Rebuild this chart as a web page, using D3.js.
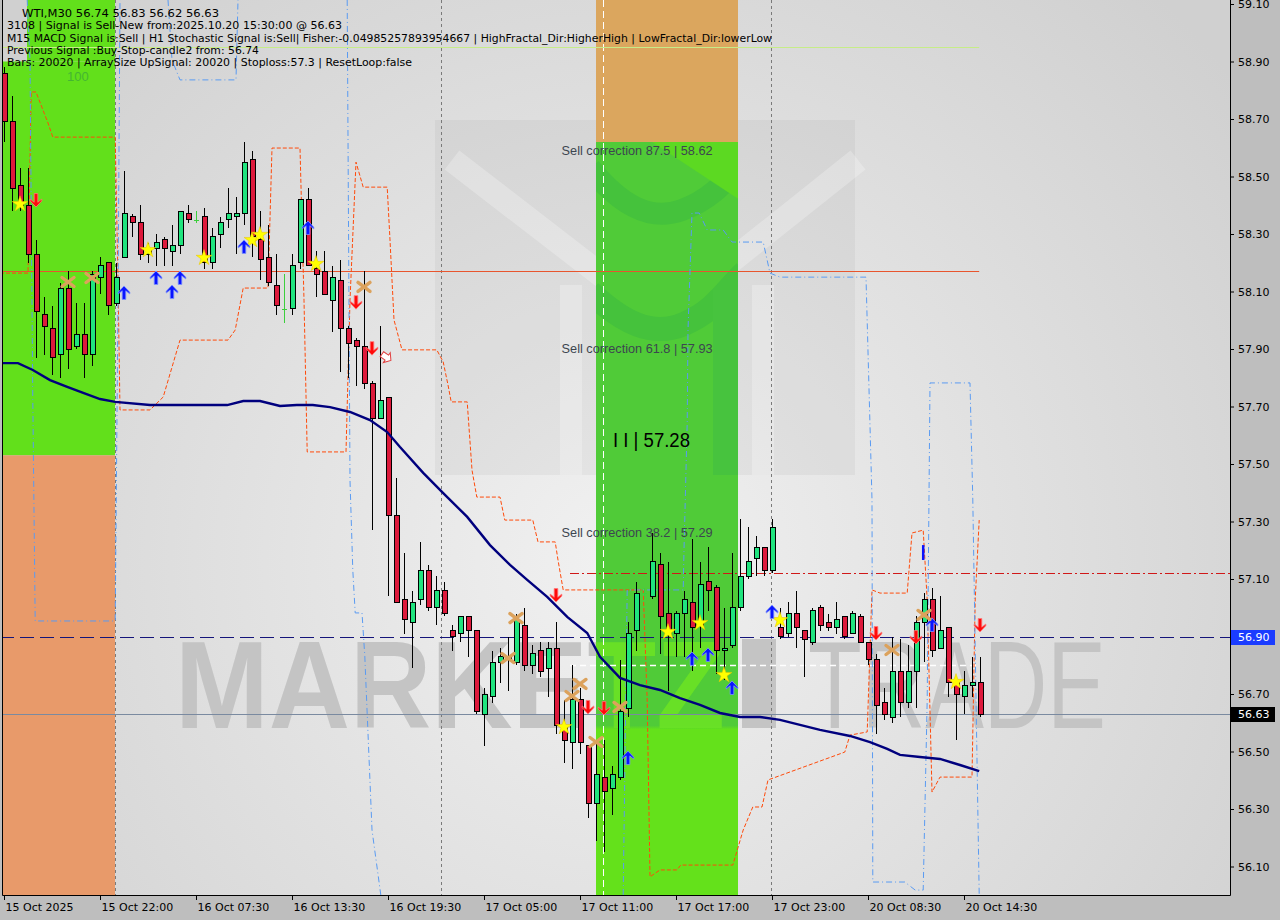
<!DOCTYPE html>
<html><head><meta charset="utf-8">
<script src="https://cdn.jsdelivr.net/npm/d3@7"></script>
<style>body{margin:0;background:#bebebe;} svg{display:block}</style>
</head><body>
<svg id="chart" width="1280" height="920"></svg>
<script>
// ---------- DATA ----------
const open = [58.86,58.69,58.47,58.40,58.23,58.02,57.97,57.88,58.11,57.91,
57.95,57.88,58.15,58.20,58.06,58.22,58.36,58.34,58.23,58.25,
58.28,58.24,58.26,58.37,58.35,58.36,58.20,58.30,58.35,58.36,
58.37,58.56,58.28,58.22,58.12,58.04,58.04,58.20,58.42,58.18,
58.17,58.07,58.14,57.97,57.93,57.91,57.78,57.66,57.73,57.32,
57.03,56.95,57.03,57.13,57.00,57.06,56.92,56.91,56.97,56.92,
56.63,56.69,56.81,56.82,56.81,56.94,56.80,56.85,56.79,56.86,
56.59,56.53,56.68,56.52,56.32,56.41,56.37,56.41,56.65,56.92,
57.05,57.04,57.15,56.98,56.91,56.98,57.02,56.94,57.09,57.07,
56.85,56.87,57.00,57.11,57.17,57.21,57.13,56.93,56.91,56.98,
56.92,56.88,57.00,56.95,56.93,56.97,56.91,56.97,56.88,56.82,
56.67,56.62,56.78,56.67,56.78,56.95,57.03,56.86,56.93,56.74,
56.69,56.73,56.74];
const high = [58.88,58.78,58.53,58.53,58.28,58.08,58.05,58.13,58.17,58.06,
58.06,58.17,58.22,58.20,58.20,58.52,58.37,58.40,58.27,58.30,
58.29,58.33,58.38,58.40,58.38,58.39,58.32,58.36,58.46,58.43,
58.62,58.59,58.38,58.33,58.23,58.16,58.23,58.42,58.46,58.24,
58.24,58.19,58.21,57.98,57.94,58.17,57.79,57.98,57.73,57.45,
57.19,57.06,57.23,57.15,57.11,57.09,56.94,56.97,56.97,56.92,
56.72,56.85,56.86,56.90,56.98,57.00,56.87,56.88,56.88,56.95,
56.68,56.80,56.72,56.52,56.53,56.54,56.45,56.82,56.95,57.09,
57.07,57.26,57.19,57.16,56.99,57.06,57.24,57.16,57.21,57.08,
57.00,57.19,57.31,57.28,57.25,57.21,57.31,57.00,57.02,57.06,
56.92,57.00,57.01,56.98,57.02,56.97,56.99,56.98,56.88,56.84,
56.72,56.90,56.89,56.87,56.97,57.05,57.07,57.04,56.93,56.76,
56.78,56.83,56.83];
const low = [58.62,58.38,58.38,58.20,57.87,57.88,57.81,57.80,57.83,57.90,
57.80,57.84,58.09,58.02,58.05,58.22,58.29,58.21,58.20,58.19,
58.19,58.19,58.23,58.34,58.34,58.18,58.18,58.25,58.32,58.23,
58.33,58.22,58.14,58.12,58.02,57.99,58.02,58.18,58.19,58.08,
58.09,57.96,57.82,57.80,57.77,57.76,57.27,57.66,57.04,57.02,
56.91,56.79,57.01,56.99,56.94,56.97,56.85,56.88,56.83,56.63,
56.52,56.67,56.74,56.71,56.80,56.78,56.77,56.76,56.69,56.56,
56.46,56.44,56.49,56.27,56.19,56.15,56.28,56.40,56.62,56.85,
57.03,57.03,56.84,56.71,56.83,56.83,56.78,56.86,56.99,56.77,
56.75,56.86,56.99,57.10,57.11,57.11,57.12,56.89,56.90,56.86,
56.76,56.87,56.92,56.92,56.91,56.89,56.91,56.88,56.80,56.56,
56.61,56.60,56.62,56.65,56.65,56.81,56.83,56.86,56.69,56.54,
56.63,56.69,56.62];
const close = [58.69,58.46,58.40,58.23,58.03,57.98,57.87,58.11,57.90,57.95,
57.88,58.16,58.19,58.05,58.15,58.37,58.34,58.23,58.25,58.27,
58.25,58.26,58.38,58.35,58.35,58.20,58.29,58.34,58.37,58.37,
58.55,58.29,58.21,58.13,58.05,58.04,58.19,58.42,58.19,58.16,
58.09,58.15,57.97,57.92,57.91,57.78,57.66,57.72,57.32,57.02,
56.96,57.02,57.13,57.00,57.06,56.98,56.90,56.97,56.92,56.64,
56.70,56.81,56.83,56.83,56.96,56.80,56.84,56.78,56.86,56.59,
56.54,56.68,56.53,56.32,56.42,56.36,56.42,56.64,56.91,57.05,
57.05,57.16,56.97,56.92,56.98,57.03,56.93,57.08,57.06,56.85,
56.86,57.00,57.11,57.16,57.21,57.13,57.28,56.90,56.98,56.93,
56.89,56.99,56.94,56.93,56.96,56.90,56.98,56.88,56.82,56.66,
56.63,56.78,56.67,56.78,56.95,57.03,56.85,56.92,56.74,56.70,
56.73,56.74,56.63];

const timeTickIdx = [0,12,24,36,48,60,72,84,96,108,120];
const timeTickLabels = ["15 Oct 2025","15 Oct 22:00","16 Oct 07:30","16 Oct 13:30","16 Oct 19:30","17 Oct 05:00","17 Oct 11:00","17 Oct 17:00","17 Oct 23:00","20 Oct 08:30","20 Oct 14:30"];
const priceTicks = [56.10,56.30,56.50,56.70,56.90,57.10,57.30,57.50,57.70,57.90,58.10,58.30,58.50,58.70,58.90,59.10];

// moving average (bar index, price)
const maIdx = [-0.5,1.75,3.6,5.75,7.9,9.9,12,13.9,18.25,23.25,27.9,29.9,32,34.5,36.6,38.6,40.75,43.25,45.75,47.9,49.5,52.4,54.9,57.9,60.75,63.25,65.4,67.9,70.4,72.9,74.5,77,79.5,82,84.5,87,89.5,92,94.5,97,102,105.75,108.25,110.4,112,114.5,117,119.5,121.9];
const maVal = [57.851,57.851,57.827,57.792,57.768,57.747,57.726,57.716,57.705,57.705,57.705,57.719,57.719,57.702,57.705,57.705,57.698,57.681,57.653,57.611,57.559,57.469,57.399,57.316,57.218,57.149,57.097,57.038,56.968,56.912,56.829,56.756,56.731,56.714,56.686,56.662,56.634,56.620,56.620,56.610,56.575,56.554,56.533,56.509,56.488,56.481,56.474,56.453,56.432];

// orange fractal step line
const orIdx = [-0.5,3,3.4,4,5.5,6.1,13.9,14.25,14.5,18.25,19.9,22,28,28.9,29.9,33,33.5,37,37.5,37.9,42.75,43.25,44,44.9,47.9,48.25,48.75,49.75,54.1,54.9,55.5,55.9,57.9,58.5,59.1,62,62.6,66.1,66.75,68.9,69.25,69.9,79.9,80.4,80.75,82,84.1,84.6,91.1,92.4,93.6,94.75,95.5,105.1,105.75,107.9,108.5,109.5,112.9,113.5,114.9,115.4,116,117,121,121.4,121.9];
const orVal = [58.164,58.164,58.794,58.794,58.686,58.637,58.637,58.14,57.688,57.688,57.733,57.931,57.931,57.966,58.112,58.112,58.599,58.599,58.070,57.542,57.542,58.070,58.550,58.463,58.463,58.279,58.001,57.897,57.897,57.855,57.775,57.716,57.716,57.479,57.385,57.385,57.305,57.305,57.229,57.229,57.166,57.062,57.062,56.679,56.064,56.088,56.088,56.105,56.105,56.227,56.307,56.307,56.401,56.498,56.557,56.568,57.062,57.051,57.051,57.260,57.270,57.027,56.359,56.411,56.411,57.027,57.305];

// blue fractal step lines
const b1Idx = [2.9,3.25,3.6,3.9,13.9,14.25,14.5];
const b1Val = [59.114,58.905,57.723,56.954,56.954,58.070,59.114];
const b2Idx = [20.5,21,22,29,29.25];
const b2Val = [59.114,58.905,58.836,58.836,59.114];
const b3Idx = [42.9,43.25,43.6,43.9,44.75,45.1,46,47.1];
const b3Val = [59.114,57.444,57.131,56.982,56.982,56.832,56.227,56.001];
const b4Idx = [77.4,77.9,84.9,85,85.4,85.5,86,86.9,87.9,89.9,91,94.9,95.75,97,107.75,108.5,108.6,112.6,113.9,114.9,115.4,115.75,120.75,121.1,121.9];
const b4Val = [56.001,57.062,57.062,57.201,57.643,57.966,58.373,58.373,58.314,58.314,58.272,58.272,58.164,58.150,58.150,57.375,56.046,56.046,56.018,56.018,56.679,57.782,57.782,57.375,56.001];

// signal markers
const starIdx = [2,18,25,31,32,39,70,83,87,90,97,119];
const starPx  = [58.404,58.244,58.217,58.279,58.297,58.196,56.585,56.916,56.947,56.766,56.957,56.742];
const upIdx = [15,19,21,22,30,38,78,86,88,91,96,116];
const upPx  = [58.095,58.147,58.098,58.147,58.255,58.321,56.477,56.822,56.836,56.721,56.985,56.940];
const downIdx = [4,44,46,69,73,75,109,114,122];
const downPx  = [58.418,58.063,57.903,57.044,56.655,56.651,56.912,56.898,56.940];
const crossIdx = [8,11,45,63,64,71,72,74,77,111,115];
const crossPx  = [58.133,58.147,58.116,56.825,56.964,56.693,56.735,56.533,56.655,56.853,56.975];

// zones
const zoneX0 = [-0.5,2.875,-0.5,74,74];
const zoneX1 = [13.875,13.875,13.875,91.75,91.75];
const zoneHi = [58.90,59.13,57.53,59.13,58.62];
const zoneLo = [57.53,58.90,55.99,58.62,55.99];
const zoneKind = ["buy","buy","sell","tan","mid"];

// levels
const levelPrice = [58.95,58.17,57.12,56.90,56.80,56.63];
const levelFrom  = [-0.5,-0.5,70.75,-0.5,70.75,-0.5];
const levelTo    = [121.9,121.9,160,160,121.9,160];
const levelKind  = ["lime","orange","reddash","bluedash","white","bid"];
const sepIdx = [13.9,54.6,95.9];
const whiteSepIdx = [74.9];

const corrLabels = ["Sell correction 87.5 | 58.62","Sell correction 61.8 | 57.93","Sell correction 38.2 | 57.29"];
const corrPrice = [58.62,57.93,57.29];
const headerLines = ["WTI,M30  56.74 56.83 56.62 56.63",
 "3108 | Signal is Sell-New from:2025.10.20 15:30:00 @ 56.63",
 "M15 MACD Signal is:Sell | H1 Stochastic Signal is:Sell| Fisher:-0.04985257893954667 | HighFractal_Dir:HigherHigh | LowFractal_Dir:lowerLow",
 "Previous Signal :Buy-Stop-candle2 from: 56.74",
 "Bars: 20020 | ArraySize UpSignal: 20020 | Stoploss:57.3 | ResetLoop:false"];
const priceTags = [56.90,56.63];

// ---------- STYLE / LAYOUT ----------
const headerX = [22,7,7,7,7], headerY=[17,29,42,54,66], headerW=[197,335,765,252,405];
const zoneColor = {buy:"#62e01b", sell:"#e89a6a", tan:"#dba65e", mid:"url(#midGrad)"};
const tagFill = ["#1a3cff","#000000"];

const svg = d3.select("#chart");
const x = d3.scaleLinear().domain([0,122]).range([4,980]);
const y = d3.scaleLinear().domain([56.10,59.10]).range([866.5,4]);
const L=2, R=1230, B=895;

const defs = svg.append("defs");
defs.append("clipPath").attr("id","plotClip").append("rect").attr("x",L).attr("y",0).attr("width",R-L).attr("height",B);
defs.append("clipPath").attr("id","midClip").append("rect")
  .attr("x",x(zoneX0[4])).attr("y",y(zoneHi[4])).attr("width",x(zoneX1[4])-x(zoneX0[4])).attr("height",B-y(zoneHi[4]));
const rg = defs.append("radialGradient").attr("id","bgGrad").attr("gradientUnits","userSpaceOnUse")
  .attr("cx",620).attr("cy",560).attr("r",780);
rg.append("stop").attr("offset",0).attr("stop-color","#f1f1f1");
rg.append("stop").attr("offset",1).attr("stop-color","#d0d0d0");
const mg = defs.append("linearGradient").attr("id","midGrad").attr("gradientUnits","userSpaceOnUse")
  .attr("x1",0).attr("x2",0).attr("y1",y(58.62)).attr("y2",B);
[[0,"#50cb38"],[0.775,"#50cb38"],[0.78,"#64e11b"],[1,"#64e11b"]].forEach(s=>mg.append("stop").attr("offset",s[0]).attr("stop-color",s[1]));

// background
svg.append("rect").attr("width",1280).attr("height",920).attr("fill","#bebebe");
svg.append("rect").attr("x",L).attr("y",0).attr("width",R-L).attr("height",B).attr("fill","url(#bgGrad)");

const plot = svg.append("g").attr("clip-path","url(#plotClip)");

// watermark logo (grey area)
const logo = plot.append("g");
logo.append("rect").attr("x",435).attr("y",120).attr("width",420).attr("height",355).attr("fill","#000").attr("opacity",0.04);
logo.append("path").attr("d","M452,160 L605,278").attr("stroke","#fff").attr("stroke-width",24).attr("opacity",0.25);
logo.append("path").attr("d","M858,160 L730,262").attr("stroke","#fff").attr("stroke-width",24).attr("opacity",0.25);
logo.append("rect").attr("x",560).attr("y",285).attr("width",22).attr("height",190).attr("fill","#fff").attr("opacity",0.25);
logo.append("rect").attr("x",752).attr("y",285).attr("width",22).attr("height",190).attr("fill","#fff").attr("opacity",0.25);

// watermark text
function watermark(g, fill, op){
  g.append("text").attr("x",175).attr("y",728).attr("font-family","Liberation Sans, Arial").attr("font-weight","bold")
   .attr("font-size",124).attr("textLength",550).attr("lengthAdjust","spacingAndGlyphs").attr("fill",fill).attr("opacity",op).text("MARKETZ");
  g.append("rect").attr("x",742).attr("y",639).attr("width",34).attr("height",89).attr("fill",fill).attr("opacity",op);
  g.append("text").attr("x",808).attr("y",728).attr("font-family","Liberation Sans, Arial")
   .attr("font-size",124).attr("textLength",298).attr("lengthAdjust","spacingAndGlyphs").attr("fill",fill).attr("opacity",op).text("TRADE");
}
watermark(plot.append("g"), "#c4c4c4", 1);

// zones
plot.append("g").selectAll("rect").data(zoneKind).join("rect")
  .attr("x",(d,i)=>x(zoneX0[i])).attr("width",(d,i)=>x(zoneX1[i])-x(zoneX0[i]))
  .attr("y",(d,i)=>y(zoneHi[i])).attr("height",(d,i)=>y(zoneLo[i])-y(zoneHi[i]))
  .attr("fill",d=>zoneColor[d]);

// in-band logo / watermark
const band = plot.append("g").attr("clip-path","url(#midClip)");
band.append("path").attr("d","M590,168 C620,205 650,222 682,210 S728,178 745,160").attr("fill","none").attr("stroke","#45c23c").attr("stroke-width",22);
band.append("path").attr("d","M590,292 C622,322 652,338 684,324 S724,292 745,272").attr("fill","none").attr("stroke","#45c23c").attr("stroke-width",24);
band.append("path").attr("d","M652,142 L740,142 L740,200 Z").attr("fill","#5cd922");
band.append("rect").attr("x",713).attr("y",290).attr("width",26).attr("height",185).attr("fill","#47c33e");
watermark(band, "#6be325", 0.9);

// separators
plot.append("g").selectAll("line").data(sepIdx).join("line")
  .attr("x1",d=>Math.round(x(d))+0.5).attr("x2",d=>Math.round(x(d))+0.5).attr("y1",0).attr("y2",B)
  .attr("stroke","#7a7a7a").attr("stroke-dasharray","3,3");
plot.append("g").selectAll("line").data(whiteSepIdx).join("line")
  .attr("x1",d=>Math.round(x(d))+0.5).attr("x2",d=>Math.round(x(d))+0.5).attr("y1",0).attr("y2",B)
  .attr("stroke","#ffffff").attr("stroke-dasharray","7,4");

// levels
const levelStyle = {
  lime:{c:"#c6ec88",w:1,d:null},
  orange:{c:"#e8552e",w:1,d:null},
  reddash:{c:"#d01818",w:1.2,d:"9,3,2,3"},
  bluedash:{c:"#14147a",w:1.2,d:"14,6"},
  white:{c:"#ffffff",w:1.3,d:"6,4"},
  bid:{c:"#7a8aa0",w:1,d:null}
};
plot.append("g").selectAll("line").data(levelKind).join("line")
  .attr("x1",(d,i)=>x(levelFrom[i])).attr("x2",(d,i)=>x(levelTo[i]))
  .attr("y1",(d,i)=>Math.round(y(levelPrice[i]))+0.5).attr("y2",(d,i)=>Math.round(y(levelPrice[i]))+0.5)
  .attr("stroke",d=>levelStyle[d].c).attr("stroke-width",d=>levelStyle[d].w)
  .attr("stroke-dasharray",d=>levelStyle[d].d);

// indicator step lines
const ln = d3.line().x(d=>x(d[0])).y(d=>y(d[1]));
plot.append("path").attr("d",ln(orIdx.map((v,i)=>[v,orVal[i]]))).attr("fill","none")
  .attr("stroke","#ff4a0a").attr("stroke-width",1).attr("stroke-dasharray","4,2");
[[b1Idx,b1Val],[b2Idx,b2Val],[b3Idx,b3Val],[b4Idx,b4Val]].forEach(([a,b])=>{
  plot.append("path").attr("d",ln(a.map((v,i)=>[v,b[i]]))).attr("fill","none")
   .attr("stroke","#5a9bf2").attr("stroke-width",1).attr("stroke-dasharray","6,3,1,3");
});

// candles
const cg = plot.append("g").attr("shape-rendering","crispEdges");
const idx = d3.range(open.length);
cg.selectAll("line.w").data(idx).join("line").attr("class","w")
  .attr("x1",i=>x(i)+0.5).attr("x2",i=>x(i)+0.5)
  .attr("y1",i=>y(high[i])).attr("y2",i=>y(low[i]))
  .attr("stroke",i=>open[i]===close[i]?"#3ccf3c":"#000").attr("stroke-width",1);
cg.selectAll("rect").data(idx.filter(i=>open[i]!==close[i])).join("rect")
  .attr("x",i=>x(i)-2).attr("width",5)
  .attr("y",i=>y(Math.max(open[i],close[i]))).attr("height",i=>Math.max(1,Math.abs(y(open[i])-y(close[i]))))
  .attr("fill",i=>close[i]>open[i]?"#20e47e":"#dd1a3c").attr("stroke","#000").attr("stroke-width",1);
cg.selectAll("line.d").data(idx.filter(i=>open[i]===close[i])).join("line").attr("class","d")
  .attr("x1",i=>x(i)-2).attr("x2",i=>x(i)+3).attr("y1",i=>Math.round(y(open[i]))+0.5).attr("y2",i=>Math.round(y(open[i]))+0.5)
  .attr("stroke","#3ccf3c");

// moving average
plot.append("path").attr("d",ln(maIdx.map((v,i)=>[v,maVal[i]]))).attr("fill","none")
  .attr("stroke","#00007e").attr("stroke-width",2.4);

// markers
const mk = plot.append("g");
mk.selectAll("path.star").data(starIdx).join("path").attr("class","star")
  .attr("d",d3.symbol(d3.symbolStar,78)).attr("transform",(d,i)=>`translate(${x(d)},${y(starPx[i])})`)
  .attr("fill","#ffff00").attr("stroke","#e8c000").attr("stroke-width",0.5);
const arrowPath = "M0,-7 L5.8,-0.8 L5.8,1 L1.8,-2.2 L1.8,6.5 L-1.8,6.5 L-1.8,-2.2 L-5.8,1 L-5.8,-0.8 Z";
mk.selectAll("path.up").data(upIdx).join("path").attr("class","up").attr("d",arrowPath)
  .attr("transform",(d,i)=>`translate(${x(d)},${y(upPx[i])})`)
  .attr("fill","#0a14ff").attr("stroke","#7d95ff").attr("stroke-width",0.8);
mk.selectAll("path.dn").data(downIdx).join("path").attr("class","dn").attr("d",arrowPath)
  .attr("transform",(d,i)=>`translate(${x(d)},${y(downPx[i])}) scale(1,-1)`)
  .attr("fill","#ff0a0a").attr("stroke","#ff7a7a").attr("stroke-width",0.8);
mk.selectAll("path.cr").data(crossIdx).join("path").attr("class","cr")
  .attr("d","M-6,-4.5 L6,4.5 M-6,4.5 L6,-4.5")
  .attr("transform",(d,i)=>`translate(${x(d)},${y(crossPx[i])})`)
  .attr("stroke","#dca25c").attr("stroke-width",3.4).attr("stroke-linecap","round").attr("fill","none");
// small outlined arrow and blue bar mark
mk.append("path").attr("d","M-5,-3 L1,-3 L1,-6 L6,0 L1,6 L1,3 L-5,3 Z")
  .attr("transform",`translate(${x(47.75)},${y(57.872)}) rotate(35)`).attr("fill","#fff").attr("stroke","#e04040").attr("stroke-width",1);
mk.append("line").attr("x1",x(114.9)).attr("x2",x(114.9)).attr("y1",y(57.218)).attr("y2",y(57.166))
  .attr("stroke","#0a14ff").attr("stroke-width",2.5);

// texts
const tg = svg.append("g").attr("font-family","DejaVu Sans, Tahoma, sans-serif");
tg.append("text").attr("x",67).attr("y",81).attr("font-size",13).attr("font-family","Liberation Sans, Arial, sans-serif")
  .attr("fill","#3aa83a").attr("opacity",0.75).text("100");
tg.selectAll("text.h").data(headerLines).join("text").attr("class","h")
  .attr("x",(d,i)=>headerX[i]).attr("y",(d,i)=>headerY[i]).attr("font-size",11)
  .attr("textLength",(d,i)=>headerW[i]).attr("lengthAdjust","spacingAndGlyphs").attr("fill","#000").text(d=>d);
tg.selectAll("text.c").data(corrLabels).join("text").attr("class","c")
  .attr("x",x(69.7)).attr("y",(d,i)=>y(corrPrice[i])+12.5).attr("font-size",12)
  .attr("font-family","Liberation Sans, Arial, sans-serif")
  .attr("textLength",151).attr("lengthAdjust","spacingAndGlyphs").attr("fill","#3c4650").text(d=>d);
tg.append("text").attr("x",613).attr("y",447).attr("font-size",20).attr("font-family","Liberation Sans, Arial, sans-serif")
  .attr("fill","#000").attr("textLength",77).attr("lengthAdjust","spacingAndGlyphs").text("I I | 57.28");

// axes
const yAxis = svg.append("g").attr("transform",`translate(${R},0)`)
  .call(d3.axisRight(y).tickValues(priceTicks).tickSize(4).tickPadding(4).tickFormat(d3.format(".2f")));
yAxis.select(".domain").remove();
yAxis.selectAll("text").attr("font-family","DejaVu Sans, Tahoma, sans-serif").attr("font-size",11).attr("fill","#000");
yAxis.selectAll("line").attr("stroke","#000");

const xAxis = svg.append("g").attr("transform",`translate(0,${B})`)
  .call(d3.axisBottom(x).tickValues(timeTickIdx).tickSize(5).tickPadding(3).tickFormat((d,i)=>timeTickLabels[i]));
xAxis.select(".domain").remove();
xAxis.selectAll("text").attr("text-anchor","start").attr("dx",0).attr("x",1)
  .attr("font-family","DejaVu Sans, Tahoma, sans-serif").attr("font-size",11).attr("fill","#000");
xAxis.selectAll("line").attr("stroke","#000");

// frame
svg.append("path").attr("d",`M${L+0.5},0 V${B+0.5} H${R+0.5} V0`).attr("fill","none").attr("stroke","#000").attr("stroke-width",1);

// price tags
const pt = svg.append("g").attr("font-family","DejaVu Sans, Tahoma, sans-serif").attr("font-size",11);
pt.selectAll("rect").data(priceTags).join("rect")
  .attr("x",R+1).attr("y",d=>Math.round(y(d))-7).attr("width",44).attr("height",15).attr("fill",(d,i)=>tagFill[i]);
pt.selectAll("text").data(priceTags).join("text")
  .attr("x",R+8).attr("y",d=>y(d)+4).attr("fill","#fff").text(d=>d3.format(".2f")(d));
</script>
</body></html>
